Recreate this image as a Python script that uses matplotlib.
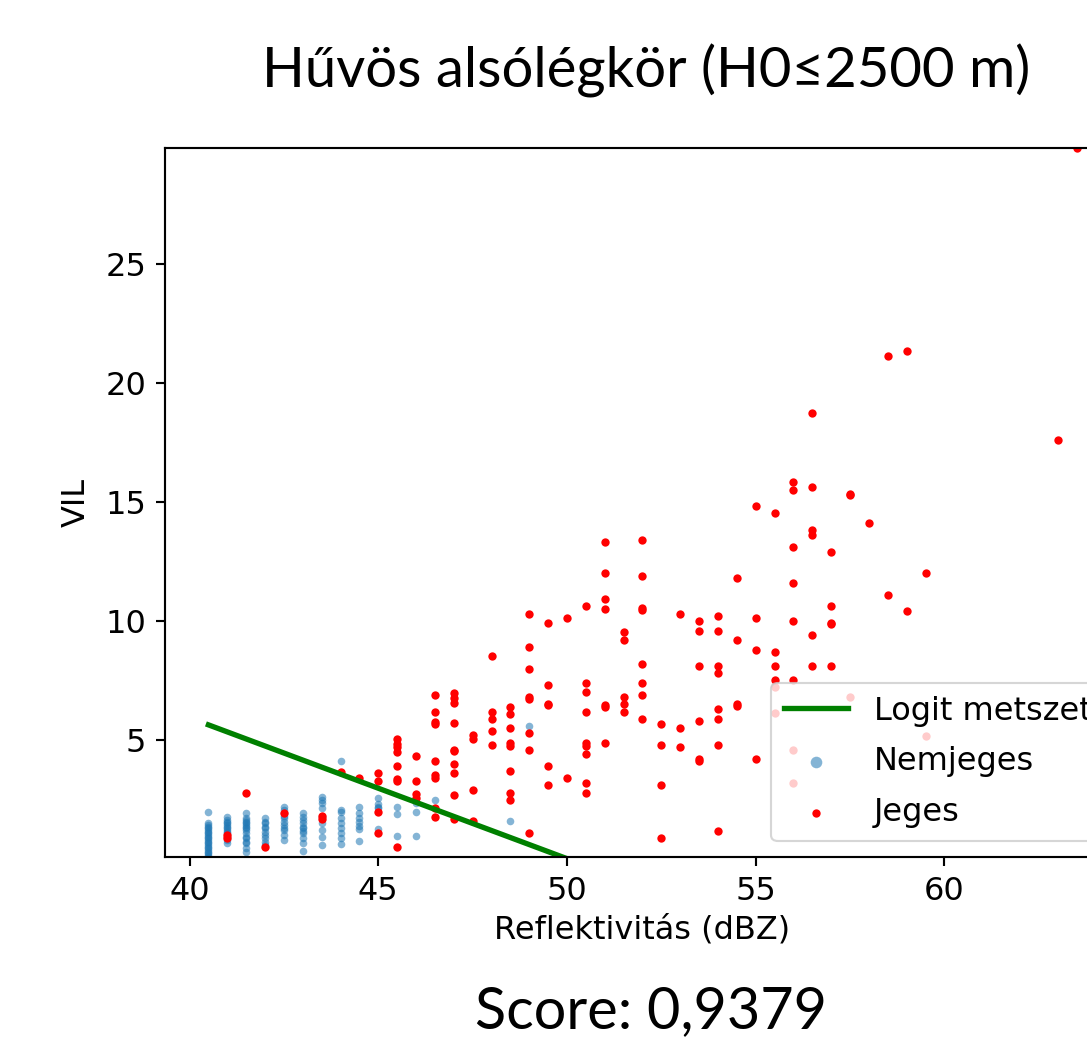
import matplotlib
matplotlib.use("Agg")
import matplotlib.pyplot as plt
import numpy as np

# ---------------- data ----------------
title_text = "Hűvös alsólégkör (H0≤2500 m)"
score_text = "Score: 0,9379"
x_label = "Reflektivitás (dBZ)"
y_label = "VIL"
legend_labels = ["Logit metszet", "Nemjeges", "Jeges"]

# Logit decision line (endpoints)
logit_x = [40.5, 50.0]
logit_y = [5.63, 0.0]

# Nemjeges (non-hail) points, grouped by reflectivity value
blue_groups = {
    40.5: [1.98, 1.49, 1.42, 1.35, 1.28, 1.21, 1.14, 1.07, 1.0, 0.93, 0.86,
           0.79, 0.72, 0.65, 0.58, 0.51, 0.44, 0.37, 0.30, 0.23, 0.16, 0.07],
    41.0: [1.77, 1.63, 1.56, 1.49, 1.42, 1.35, 1.28, 1.21, 1.14, 1.07, 0.93,
           0.79, 0.65],
    41.5: [1.91, 1.70, 1.63, 1.56, 1.49, 1.42, 1.35, 1.28, 1.21, 1.07, 0.93,
           0.86, 0.72, 0.65, 0.44, 0.30],
    42.0: [1.70, 1.56, 1.49, 1.35, 1.28, 1.14, 1.0, 0.86, 0.72, 0.58],
    42.5: [2.19, 2.05, 1.91, 1.80, 1.70, 1.56, 1.42, 1.28, 1.21, 1.0, 0.79],
    43.0: [1.91, 1.77, 1.63, 1.49, 1.35, 1.28, 1.18, 1.07, 0.86, 0.65, 0.34],
    43.5: [2.61, 2.47, 2.33, 2.12, 1.77, 1.49, 1.21, 0.93, 0.58],
    44.0: [4.09, 2.05, 1.98, 1.70, 1.49, 1.28, 1.07, 0.86, 0.62],
    44.5: [2.16, 1.91, 1.70, 1.56, 1.39, 1.24, 0.76],
    45.0: [2.57, 2.28, 2.19, 2.12, 1.25],
    45.5: [2.19, 1.87, 0.97],
    46.0: [2.33, 1.98, 0.97],
    46.5: [2.47],
    48.5: [1.58],
    49.0: [5.59],
}

# Jeges (hail) points, grouped by reflectivity value
red_groups = {
    41.0: [1.0, 0.86],
    41.5: [2.78],
    42.0: [0.47],
    42.5: [1.91],
    43.5: [1.80, 1.66],
    44.0: [3.65],
    44.5: [3.40],
    45.0: [3.60, 3.27, 1.98, 1.07],
    45.5: [5.02, 4.82, 4.68, 4.48, 3.90, 3.34, 3.27, 0.50],
    46.0: [4.30, 3.27, 2.71, 2.57],
    46.5: [6.89, 6.19, 5.77, 5.67, 4.09, 3.53, 3.39, 2.12, 1.77],
    47.0: [6.97, 6.75, 6.57, 5.70, 4.58, 4.51, 3.99, 3.60, 2.68, 1.66],
    47.5: [5.21, 5.03, 2.87, 1.60],
    48.0: [8.51, 6.19, 5.87, 5.39, 4.79],
    48.5: [6.40, 6.08, 5.49, 4.86, 4.76, 3.67, 2.78, 2.47],
    49.0: [10.31, 8.90, 7.99, 6.80, 6.70, 5.28, 4.58, 1.07],
    49.5: [9.91, 7.30, 6.52, 6.45, 3.88, 3.08],
    50.0: [10.12, 3.39],
    50.5: [10.61, 7.41, 7.01, 6.19, 4.85, 4.75, 4.40, 3.18, 2.78],
    51.0: [13.32, 12.02, 10.92, 10.50, 6.47, 6.38, 4.86],
    51.5: [9.52, 9.20, 6.82, 6.52, 6.19],
    52.0: [13.42, 11.91, 10.53, 10.45, 8.20, 7.39, 6.89, 5.88],
    52.5: [5.67, 4.78, 3.08, 0.86],
    53.0: [10.31, 5.48, 4.68],
    53.5: [10.0, 9.59, 8.09, 5.80, 4.18, 4.10],
    54.0: [10.19, 9.59, 8.09, 7.81, 6.29, 5.88, 4.78, 1.17],
    54.5: [11.81, 9.20, 6.50, 6.44],
    55.0: [14.82, 10.11, 8.80, 4.19],
    55.5: [14.53, 8.71, 8.10, 7.53, 7.24, 6.12],
    56.0: [15.83, 15.51, 13.11, 11.61, 10.01, 7.53, 4.58, 3.18],
    56.5: [18.74, 15.62, 13.81, 13.62, 9.41, 8.10],
    57.0: [12.92, 10.61, 9.93, 9.87, 8.10],
    57.5: [15.36, 15.28, 6.80],
    58.0: [14.12],
    58.5: [21.14, 11.11],
    59.0: [21.35, 10.40],
    59.5: [12.02, 5.17],
    63.0: [17.63],
    63.5: [29.9],
}

blue_x = [x for x, ys in blue_groups.items() for _ in ys]
blue_y = [y for ys in blue_groups.values() for y in ys]
red_x = [x for x, ys in red_groups.items() for _ in ys]
red_y = [y for ys in red_groups.values() for y in ys]

# ---------------- figure ----------------
W, H = 1087, 1043
fig = plt.figure(figsize=(W / 100, H / 100), dpi=100)
fig.patch.set_facecolor("white")

S = 1.92  # scale of the original matplotlib rendering
fs = 23

ax = fig.add_axes([165 / W, (H - 857) / H, (1120 - 165) / W, (857 - 148) / H])

ax.plot(logit_x, logit_y, color="green", lw=2.0 * S, label=legend_labels[0],
        solid_capstyle="projecting")
ax.scatter(blue_x, blue_y, s=30, color="#1f77b4", alpha=0.55,
           linewidths=0, label=legend_labels[1])
ax.scatter(red_x, red_y, s=36, color="red", linewidths=0,
           label=legend_labels[2])

all_y = blue_y + red_y
ax.set_ylim(min(all_y), max(all_y))
ax.set_xticks([40, 45, 50, 55, 60])
ax.set_yticks([5, 10, 15, 20, 25])

ax.set_xlabel(x_label, fontsize=fs, labelpad=3 * S)
ax.set_ylabel(y_label, fontsize=fs, labelpad=5 * S)
ax.tick_params(labelsize=fs, width=0.8 * S, length=3.5 * S, pad=3.5 * S)
for sp in ax.spines.values():
    sp.set_linewidth(0.8 * S)

leg = ax.legend(loc="lower right", fontsize=fs, labelspacing=0.62)
leg.get_frame().set_linewidth(0.8 * S)
hs = leg.legend_handles
hs[1].set_sizes([70])
hs[2].set_sizes([36])

fig.text(646 / W, 1 - 88 / H, title_text, ha="center", va="baseline",
         fontsize=40.5, family=["Lato", "DejaVu Sans"])
fig.text(651 / W, 1 - 1028 / H, score_text, ha="center", va="baseline",
         fontsize=41.5, family=["Lato", "DejaVu Sans"])

fig.savefig("out.png", dpi=100)
